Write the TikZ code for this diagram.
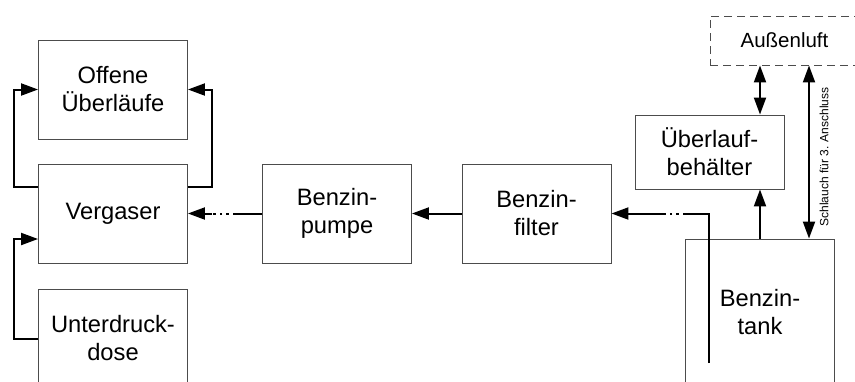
\documentclass[tikz,border=0pt]{standalone}
\usepackage{fontspec}
\setmainfont{Liberation Sans}
\usetikzlibrary{arrows.meta}
\begin{document}
\begin{tikzpicture}[x=1pt,y=-1pt,
  box/.style={draw=black!70, line width=0.9pt, minimum width=149pt, minimum height=99pt, inner sep=0pt, align=center, font=\fontsize{23.7}{28}\selectfont},
  conn/.style={line width=2pt, black},
  arr/.style={conn, -{Triangle[length=17pt,width=12pt]}},
  dblarr/.style={conn, {Triangle[length=17pt,width=12pt]}-{Triangle[length=17pt,width=12pt]}},
  gap/.style={conn, dash pattern=on 2.5pt off 4pt}]
\useasboundingbox (0,0) rectangle (855,381);
\node[box] (off) at (113,89.5) {Offene\\Überläufe};
\node[box] (verg) at (113,213.5) {Vergaser};
\node[box] (unter) at (113,338.5) {Unterdruck-\\dose};
\node[box] (pump) at (337,213.5) {Benzin-\\pumpe};
\node[box] (filt) at (536.5,213.5) {Benzin-\\filter};
\node[box, minimum height=74pt] (ueb) at (709.5,152) {Überlauf-\\behälter};
\node[box, dash pattern=on 8pt off 5pt, minimum height=49pt, font=\fontsize{20.5}{24}\selectfont] (aus) at (784.5,40.5) {Außenluft};
\node[box, minimum height=146pt] (tank) at (760,312) {Benzin-\\tank};
% loops on the left
\draw[arr] ([yshift=26.5pt]verg.west) -- ++(-24,0) |- (off.west);
\draw[arr] ([yshift=26.5pt]verg.east) -- ++(24,0) |- (off.east);
\draw[arr] (unter.west) -- ++(-24,0) |- ([yshift=-25.5pt]verg.west);
% main fuel line
\coordinate (p1) at (235,213.5);
\coordinate (p2) at (212,213.5);
\draw[conn] (pump.west) -- (p1);
\draw[gap] (p1) -- (p2);
\draw[arr] (p2) -- (verg.east);
\draw[arr] (filt.west) -- (pump.east);
\coordinate (pipeb) at (709,363);
\coordinate (pipet) at (709,213.5);
\coordinate (g1) at (685,213.5);
\coordinate (g2) at (665,213.5);
\draw[conn] (pipeb) -- (pipet) -- (g1);
\draw[gap] (g1) -- (g2);
\draw[arr] (g2) -- (filt.east);
% venting
\draw[arr] (tank.north) -- (ueb.south -| tank.north);
\draw[dblarr] (aus.south -| tank.north) -- (ueb.north -| tank.north);
\coordinate (sx) at (809,0);
\draw[dblarr] (aus.south -| sx) -- (tank.north -| sx);
\node[rotate=90, inner sep=0pt, font=\fontsize{12}{14}\selectfont] (schl) at (824,157) {Schlauch für 3. Anschluss};
\end{tikzpicture}
\end{document}
